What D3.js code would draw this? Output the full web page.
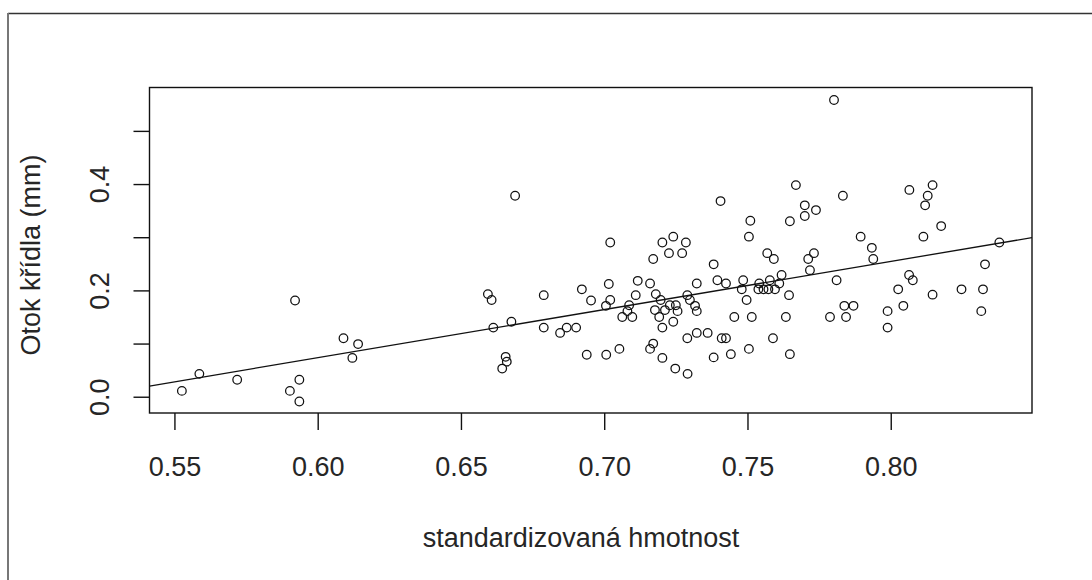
<!DOCTYPE html>
<html>
<head>
<meta charset="utf-8">
<script src="https://cdn.jsdelivr.net/npm/d3@7"></script>
<style>
  html, body { margin: 0; padding: 0; background: #fff; }
  svg { display: block; }
  text { font-family: "Liberation Sans", Arial, sans-serif; fill: #262626; }
</style>
</head>
<body>
<svg id="chart" width="1092" height="580"></svg>
<script>
// ---- data ----
const hmotnost = [
  0.5526, 0.5587, 0.5719, 0.5921, 0.5903, 0.5936, 0.5936, 0.6090, 0.6141, 0.6121,
  0.6689, 0.6594, 0.6607, 0.6613, 0.6676, 0.6656, 0.6660, 0.6644, 0.6789, 0.6789,
  0.6846, 0.6869, 0.6902, 0.6922, 0.6954, 0.6939, 0.7007, 0.7053, 0.7021, 0.7016,
  0.7021, 0.7006, 0.7063, 0.7081, 0.7087, 0.7098, 0.7110, 0.7117, 0.7160, 0.7171,
  0.7203, 0.7241, 0.7226, 0.7272, 0.7285, 0.7180, 0.7197, 0.7177, 0.7192, 0.7212,
  0.7229, 0.7250, 0.7256, 0.7241, 0.7203, 0.7290, 0.7323, 0.7299, 0.7317, 0.7323,
  0.7171, 0.7160, 0.7203, 0.7248, 0.7291, 0.7290, 0.7323, 0.7361, 0.7382, 0.7382,
  0.7406, 0.7395, 0.7425, 0.7410, 0.7425, 0.7442, 0.7454, 0.7485, 0.7480, 0.7497,
  0.7515, 0.7505, 0.7510, 0.7505,
  0.7802, 0.7669, 0.8065, 0.8146, 0.8129, 0.8120, 0.7833, 0.7700, 0.7700, 0.7739,
  0.7648, 0.8176, 0.8114, 0.7895, 0.7934, 0.7939, 0.8379, 0.8329, 0.7569, 0.7592,
  0.7732, 0.7712, 0.7718, 0.7619, 0.7578, 0.7541, 0.7538, 0.7556, 0.7573, 0.7596,
  0.7611, 0.7645, 0.7634, 0.7589, 0.7648, 0.7811, 0.7788, 0.7838, 0.7844, 0.7870,
  0.7989, 0.7989, 0.8026, 0.8044, 0.8064, 0.8077, 0.8146, 0.8247, 0.8322, 0.8316
];
const otok = [
  0.011, 0.043, 0.032, 0.181, 0.011, 0.032, -0.009, 0.110, 0.099, 0.073,
  0.378, 0.193, 0.182, 0.130, 0.141, 0.075, 0.066, 0.053, 0.191, 0.130,
  0.120, 0.130, 0.130, 0.202, 0.181, 0.079, 0.079, 0.090, 0.290, 0.212,
  0.182, 0.171, 0.150, 0.161, 0.172, 0.150, 0.191, 0.218, 0.213, 0.259,
  0.290, 0.301, 0.270, 0.270, 0.290, 0.193, 0.182, 0.163, 0.150, 0.163,
  0.172, 0.172, 0.161, 0.141, 0.130, 0.191, 0.213, 0.182, 0.171, 0.161,
  0.100, 0.090, 0.073, 0.053, 0.043, 0.110, 0.120, 0.120, 0.074, 0.249,
  0.368, 0.219, 0.213, 0.110, 0.110, 0.080, 0.150, 0.219, 0.202, 0.182,
  0.150, 0.090, 0.331, 0.301,
  0.558, 0.398, 0.389, 0.398, 0.378, 0.360, 0.378, 0.360, 0.340, 0.351,
  0.330, 0.321, 0.301, 0.301, 0.280, 0.259, 0.290, 0.249, 0.270, 0.259,
  0.270, 0.259, 0.238, 0.229, 0.219, 0.213, 0.202, 0.202, 0.202, 0.202,
  0.213, 0.191, 0.150, 0.110, 0.080, 0.219, 0.150, 0.171, 0.150, 0.171,
  0.161, 0.130, 0.202, 0.171, 0.229, 0.219, 0.192, 0.202, 0.202, 0.161
];
const xTicks = [0.55, 0.60, 0.65, 0.70, 0.75, 0.80];
const yTicks = [0.0, 0.1, 0.2, 0.3, 0.4, 0.5];
const yTickLabels = ["0.0", "", "0.2", "", "0.4", ""];
const xTickLabels = ["0.55", "0.60", "0.65", "0.70", "0.75", "0.80"];
const lineCoef = [-0.4703, 0.906]; // intercept, slope
const xLabel = "standardizovaná hmotnost";
const yLabel = "Otok křídla (mm)";
const xLim = [0.5413, 0.8493];
const yLim = [-0.0306, 0.5816];

// ---- layout ----
const L = 149.5, R = 1032, T = 87.5, B = 413;
const svg = d3.select("#chart");

const x = d3.scaleLinear().domain(xLim).range([L, R]);
const y = d3.scaleLinear().domain(yLim).range([B, T]);

// outer frame of the figure
svg.append("line").attr("x1", 8).attr("x2", 1092).attr("y1", 13.5).attr("y2", 13.5)
  .attr("stroke", "#333").attr("stroke-width", 1.5);
svg.append("line").attr("x1", 8).attr("x2", 8).attr("y1", 13).attr("y2", 580)
  .attr("stroke", "#777").attr("stroke-width", 2);

// points
svg.append("g").selectAll("circle")
  .data(hmotnost.map((v, i) => [v, otok[i]]))
  .join("circle")
  .attr("cx", d => x(d[0]))
  .attr("cy", d => y(d[1]))
  .attr("r", 4.3)
  .attr("fill", "none")
  .attr("stroke", "#111")
  .attr("stroke-width", 1.25);

// regression line (abline), clipped to plot region
svg.append("clipPath").attr("id", "clip").append("rect")
  .attr("x", L).attr("y", T).attr("width", R - L).attr("height", B - T);
svg.append("line")
  .attr("clip-path", "url(#clip)")
  .attr("x1", x(xLim[0])).attr("y1", y(lineCoef[0] + lineCoef[1] * xLim[0]))
  .attr("x2", x(xLim[1])).attr("y2", y(lineCoef[0] + lineCoef[1] * xLim[1]))
  .attr("stroke", "#111").attr("stroke-width", 1.3);

// box
svg.append("rect").attr("x", L).attr("y", T).attr("width", R - L).attr("height", B - T)
  .attr("fill", "none").attr("stroke", "#111").attr("stroke-width", 1.4);

// x axis
const gx = svg.append("g").attr("transform", `translate(0,${B})`)
  .call(d3.axisBottom(x).tickValues(xTicks).tickSize(17).tickSizeOuter(0)
    .tickFormat((d, i) => xTickLabels[i]));
gx.select(".domain").remove();
gx.selectAll(".tick line").attr("stroke", "#111").attr("stroke-width", 1.4);
gx.selectAll(".tick text").attr("y", 0).attr("dy", 0)
  .attr("transform", "translate(0,63)")
  .style("font-size", "27px").style("font-family", "Liberation Sans, Arial, sans-serif")
  .attr("fill", "#262626");

// y axis
const gy = svg.append("g").attr("transform", `translate(${L},0)`)
  .call(d3.axisLeft(y).tickValues(yTicks).tickSize(16).tickSizeOuter(0)
    .tickFormat((d, i) => yTickLabels[i]));
gy.select(".domain").remove();
gy.selectAll(".tick line").attr("stroke", "#111").attr("stroke-width", 1.4);
gy.selectAll(".tick text").attr("x", 0).attr("dy", 0)
  .attr("text-anchor", "middle")
  .attr("transform", "translate(-41,0) rotate(-90)")
  .style("font-size", "27px").style("font-family", "Liberation Sans, Arial, sans-serif")
  .attr("fill", "#262626");

// axis titles
svg.append("text").attr("x", 581).attr("y", 547)
  .attr("text-anchor", "middle").style("font-size", "27px").text(xLabel);
svg.append("text")
  .attr("transform", `translate(40,255) rotate(-90)`)
  .attr("text-anchor", "middle").style("font-size", "27px").text(yLabel);
</script>
</body>
</html>
